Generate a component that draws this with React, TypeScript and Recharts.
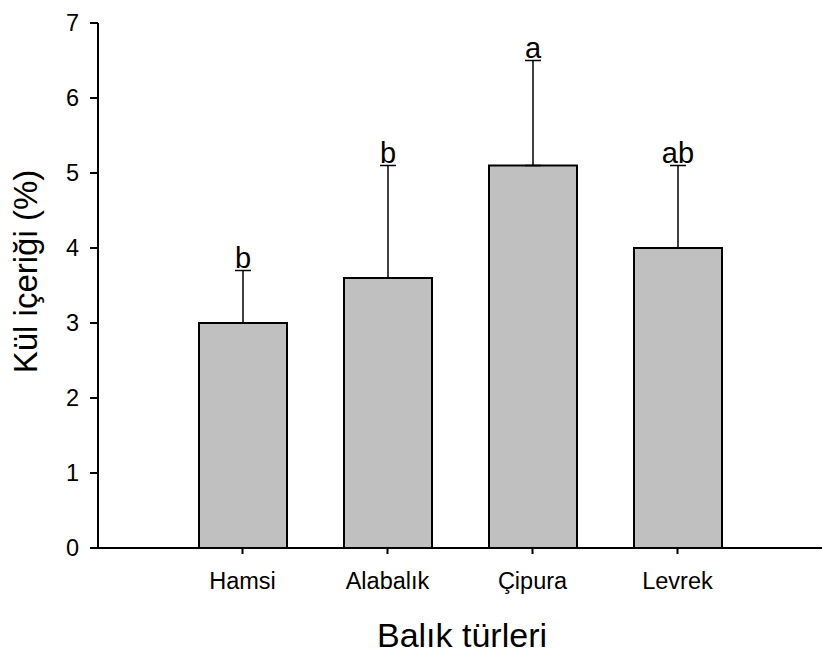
import { BarChart, Bar, XAxis, YAxis, ErrorBar, LabelList, Label } from "recharts";

// Kül içeriği (%) — ortalama + standart sapma (yalnızca üst hata çubuğu)
const TURLER = ["Hamsi", "Alabalık", "Çipura", "Levrek"];
const KUL = [3.0, 3.6, 5.1, 4.0];
const SAPMA = [0.7, 1.5, 1.4, 1.1];
const HARFLER = ["b", "b", "a", "ab"];
const Y_TICKS = [0, 1, 2, 3, 4, 5, 6, 7];

const FONT = "'Liberation Sans', Arial, Helvetica, sans-serif";

const veri = TURLER.map((tur, i) => ({
  tur,
  kul: KUL[i],
  sapma: [0, SAPMA[i]],
}));

function HarfEtiketi(props: any) {
  const { x, y, width, height, value, index } = props;
  // bar pikseli / birim -> hata çubuğu ucunun y'si
  const birim = height / value;
  const ust = y - SAPMA[index] * birim;
  return (
    <text
      x={x + width / 2}
      y={ust - 3}
      textAnchor="middle"
      fontSize={29}
      fontFamily={FONT}
      fill="#000"
    >
      {HARFLER[index]}
    </text>
  );
}

export default function App() {
  return (
    <div style={{ position: "absolute", left: 0, top: 0, width: 825, height: 653, background: "#fff" }}>
      <BarChart
        width={825}
        height={653}
        data={veri}
        margin={{ top: 23, right: 3, bottom: 0, left: 0 }}
      >
        <XAxis
          dataKey="tur"
          height={105}
          padding={{ left: 72, right: 72 }}
          stroke="#000"
          strokeWidth={2}
          tickSize={6}
          tickMargin={18}
          tick={{ fill: "#000", fontSize: 23.5, fontFamily: FONT }}
        >
          <Label
            content={({ viewBox }: any) => (
              <text
                x={viewBox.x + viewBox.width / 2 + 2}
                y={viewBox.y + 99}
                textAnchor="middle"
                fontSize={34}
                fontFamily={FONT}
                fill="#000"
              >
                Balık türleri
              </text>
            )}
          />
        </XAxis>
        <YAxis
          width={98}
          domain={[0, 7]}
          ticks={Y_TICKS}
          allowDataOverflow
          stroke="#000"
          strokeWidth={2}
          tickSize={8}
          tickMargin={11}
          tick={{ fill: "#000", fontSize: 23.5, fontFamily: FONT }}
        >
          <Label
            content={({ viewBox }: any) => {
              const lx = viewBox.x + 37;
              const ly = viewBox.y + viewBox.height / 2 - 14;
              return (
                <text
                  x={lx}
                  y={ly}
                  textAnchor="middle"
                  fontSize={33}
                  fontFamily={FONT}
                  fill="#000"
                  transform={`rotate(-90, ${lx}, ${ly})`}
                >
                  Kül içeriği (%)
                </text>
              );
            }}
          />
        </YAxis>
        <Bar
          dataKey="kul"
          barSize={88}
          fill="#c0c0c0"
          stroke="#000"
          strokeWidth={2}
          isAnimationActive={false}
        >
          <ErrorBar
            dataKey="sapma"
            direction="y"
            width={8}
            stroke="#000"
            strokeWidth={1.5}
            isAnimationActive={false}
          />
          <LabelList dataKey="kul" content={HarfEtiketi} />
        </Bar>
      </BarChart>
    </div>
  );
}
